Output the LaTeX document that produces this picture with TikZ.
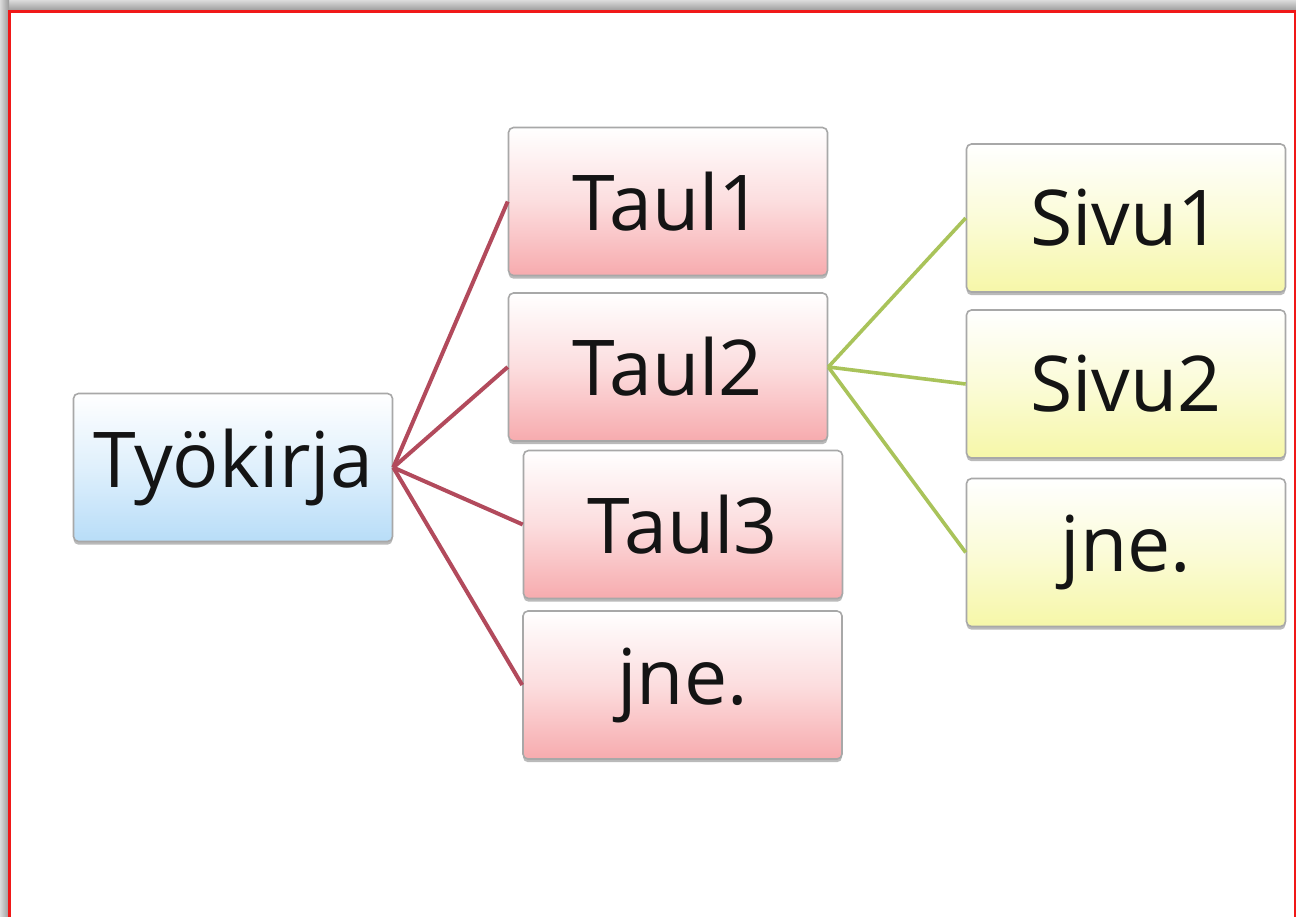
\documentclass[tikz,border=0pt]{standalone}
\usepackage{fontspec}
\setmainfont{Open Sans}
\usetikzlibrary{shadows}
\definecolor{frameRed}{HTML}{F01818}
\definecolor{boxEdge}{HTML}{A8A8A8}
\definecolor{rootBlue}{HTML}{B8DDF8}
\definecolor{leafPink}{HTML}{F7ABAE}
\definecolor{leafYellow}{HTML}{F6F7A8}
\definecolor{linkRed}{HTML}{B24A5C}
\definecolor{linkGreen}{HTML}{A9C35A}
\definecolor{ink}{HTML}{141414}
\tikzset{
  topic/.style={rectangle, rounded corners=2.5pt, draw=boxEdge, line width=0.8pt,
    minimum width=159.5pt, minimum height=74pt, inner sep=0pt,
    text=ink, font=\fontsize{38.5}{46}\selectfont,
    drop shadow={shadow xshift=0pt, shadow yshift=-1.6pt, opacity=0.45, fill=black!60}},
  rootbox/.style={topic, top color=white, bottom color=rootBlue, middle color=white!55!rootBlue},
  sheetbox/.style={topic, top color=white, bottom color=leafPink, middle color=white!60!leafPink},
  pagebox/.style={topic, top color=white, bottom color=leafYellow, middle color=white!55!leafYellow},
  redlink/.style={draw=linkRed, line width=2pt},
  greenlink/.style={draw=linkGreen, line width=1.8pt}
}
\begin{document}
\begin{tikzpicture}[x=0.5pt, y=-0.5pt]
  \useasboundingbox (0,0) rectangle (1296,916);
  % page background with a soft shadow along the top and left edges
  \fill[white] (0,0) rectangle (1296,916);
  \shade[top color=black!14, bottom color=black!40] (0,0) rectangle (1296,11);
  \shade[left color=black!14, right color=black!40] (0,0) rectangle (9,916);
  \fill[white] (9,11) rectangle (1296,916);
  \draw[frameRed, line width=1.2pt] (9.5,930) -- (9.5,11.5) -- (1294.8,11.5) -- (1294.8,930);

  % workbook
  \node[rootbox] (book) at (233,467.5) {Työkirja};

  % sheets
  \node[sheetbox] (sheetA) at (668,201.5) {Taul1};
  \node[sheetbox] (sheetB) at (668,367) {Taul2};
  \node[sheetbox] (sheetC) at (683,524.5) {Taul3};
  \node[sheetbox] (sheetD) at (682.5,685) {jne.};

  % pages of the second sheet
  \node[pagebox] (pageA) at (1126,218) {Sivu1};
  \node[pagebox] (pageB) at (1126,384) {Sivu2};
  \node[pagebox] (pageC) at (1126,552.5) {jne.};

  % branches
  \foreach \s in {sheetA,sheetB,sheetC,sheetD}
    \draw[redlink] (book.east) -- (\s.west);
  \foreach \p in {pageA,pageB,pageC}
    \draw[greenlink] (sheetB.east) -- (\p.west);
\end{tikzpicture}
\end{document}
